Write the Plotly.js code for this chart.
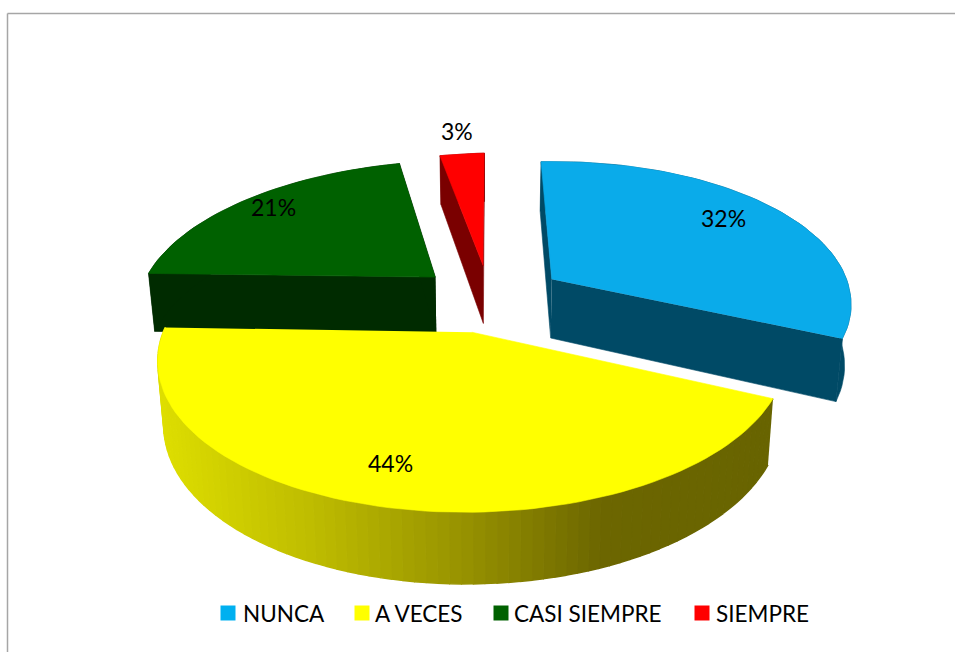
<!DOCTYPE html>
<html><head><meta charset="utf-8">
<script src="https://cdn.plot.ly/plotly-3.0.1.min.js"></script>
<style>html,body{margin:0;padding:0;background:#fff}#c{width:955px;height:652px}</style>
</head><body><div id="c"></div>
<script>
const categories = ["NUNCA","A VECES","CASI SIEMPRE","SIEMPRE"];
const values = [32,44,21,3];
const topColors = ["#0AABEA","#FFFF00","#006100","#FF0000"];
const legendColors = ["#00B0F0","#FFFF00","#006100","#FF0000"];
const wallColors = ["#004A66",null,"#002B00","#7A0000"];
const FONT = "Lato, Carlito, Calibri, sans-serif";

// projection of the tilted pie
const CX=490, CY=298, RX=299, RY=146.4, KX=0.17, KY=0.1585, SHEAR=5, SKEW=5,
      EXPLODE_U=0.25, EXPLODE_V=0.231, DEPTH=60, SHRINK=0.982;
function proj(u,v,drop){
  const px=1+KX*v, py=1+KY*v;
  const xo=RX*u*px*(drop?SHRINK:1)+SKEW*Math.max(v,0);
  return [CX+xo, CY+RY*v*py-SHEAR*u+(drop?DEPTH*py:0)];
}
const total=values.reduce((a,b)=>a+b,0);
let acc=0;
const slices=values.map((val,i)=>{
  const a0=acc/total*2*Math.PI; acc+=val; const a1=acc/total*2*Math.PI; const m=(a0+a1)/2;
  return {i,a0,a1,ou:Math.sin(m)*EXPLODE_U,ov:-Math.cos(m)*EXPLODE_V};
});
function rim(s,a,drop){return proj(s.ou+Math.sin(a),s.ov-Math.cos(a),drop);}
function apex(s,drop){return proj(s.ou,s.ov,drop);}
function poly(pts,color,w){
  return {type:'scatter',mode:'lines',x:pts.map(p=>p[0]),y:pts.map(p=>p[1]),fill:'toself',fillcolor:color,
    line:{color:color,width:w===undefined?0.6:w},hoverinfo:'skip',showlegend:false};
}
function lerpColor(t){ // yellow wall shading, left to right
  const stops=[[0,[222,222,0]],[0.25,[190,188,0]],[0.5,[150,145,0]],[0.72,[108,102,0]],[1,[104,100,0]]];
  for(let j=1;j<stops.length;j++){ if(t<=stops[j][0]){
    const f=(t-stops[j-1][0])/(stops[j][0]-stops[j-1][0]);
    const c=stops[j-1][1].map((q,n)=>Math.round(q+(stops[j][1][n]-q)*f));
    return `rgb(${c[0]},${c[1]},${c[2]})`; } }
  return 'rgb(104,100,0)';
}
const traces=[];
// draw far slices first
[3,2,0,1].forEach(i=>{
  const s=slices[i], n=Math.max(6,Math.round((s.a1-s.a0)*30));
  const arc=[],arcD=[];
  for(let k=0;k<=n;k++){const a=s.a0+(s.a1-s.a0)*k/n;arc.push(rim(s,a,false));arcD.push(rim(s,a,true));}
  if(wallColors[i]){
    traces.push(poly([apex(s),arc[0],arcD[0],apex(s,true)],wallColors[i]));
    traces.push(poly([apex(s),arc[n],arcD[n],apex(s,true)],wallColors[i]));
    traces.push(poly(arc.concat(arcD.slice().reverse()),wallColors[i]));
  } else {
    for(let k=0;k<n;k++){
      const t=((arc[k][0]+arc[k+1][0])/2-158)/(775-158);
      traces.push(poly([arc[k],arc[k+1],arcD[k+1],arcD[k]],lerpColor(t),1.5));
    }
  }
  traces.push(poly([apex(s)].concat(arc),topColors[i]));
});
// legend keys
const legendKeyX=[228,362,501,702], legendTextX=[243,375,514,716], legendY=613;
traces.push({type:'scatter',mode:'markers',x:legendKeyX,y:legendKeyX.map(()=>legendY),
  marker:{symbol:'square',size:15,color:legendColors},hoverinfo:'skip',showlegend:false});

const labelPos=[[723,218],[390,463],[273,207],[457,131]];
const annotations=values.map((v,i)=>({x:labelPos[i][0],y:labelPos[i][1],text:v+'%',showarrow:false,
  xref:'x',yref:'y',font:{family:FONT,size:23,color:'#000'}}))
 .concat(categories.map((c,i)=>({x:legendTextX[i],y:legendY,text:c,showarrow:false,xanchor:'left',xshift:-2,
  xref:'x',yref:'y',font:{family:FONT,size:22.5,color:'#000'}})));

const layout={width:955,height:652,margin:{l:0,r:0,t:0,b:0},paper_bgcolor:'#fff',plot_bgcolor:'#fff',
  xaxis:{range:[0,955],visible:false,fixedrange:true},
  yaxis:{range:[652,0],visible:false,fixedrange:true},
  showlegend:false,
  annotations,
  shapes:[
    {type:'line',xref:'x',yref:'y',x0:7.5,x1:955,y0:13.5,y1:13.5,line:{color:'#A6A6A6',width:1.5}},
    {type:'line',xref:'x',yref:'y',x0:7.5,x1:7.5,y0:13.5,y1:652,line:{color:'#A6A6A6',width:1.5}}
  ]};
Plotly.newPlot('c',traces,layout,{displayModeBar:false,staticPlot:true});
</script></body></html>
